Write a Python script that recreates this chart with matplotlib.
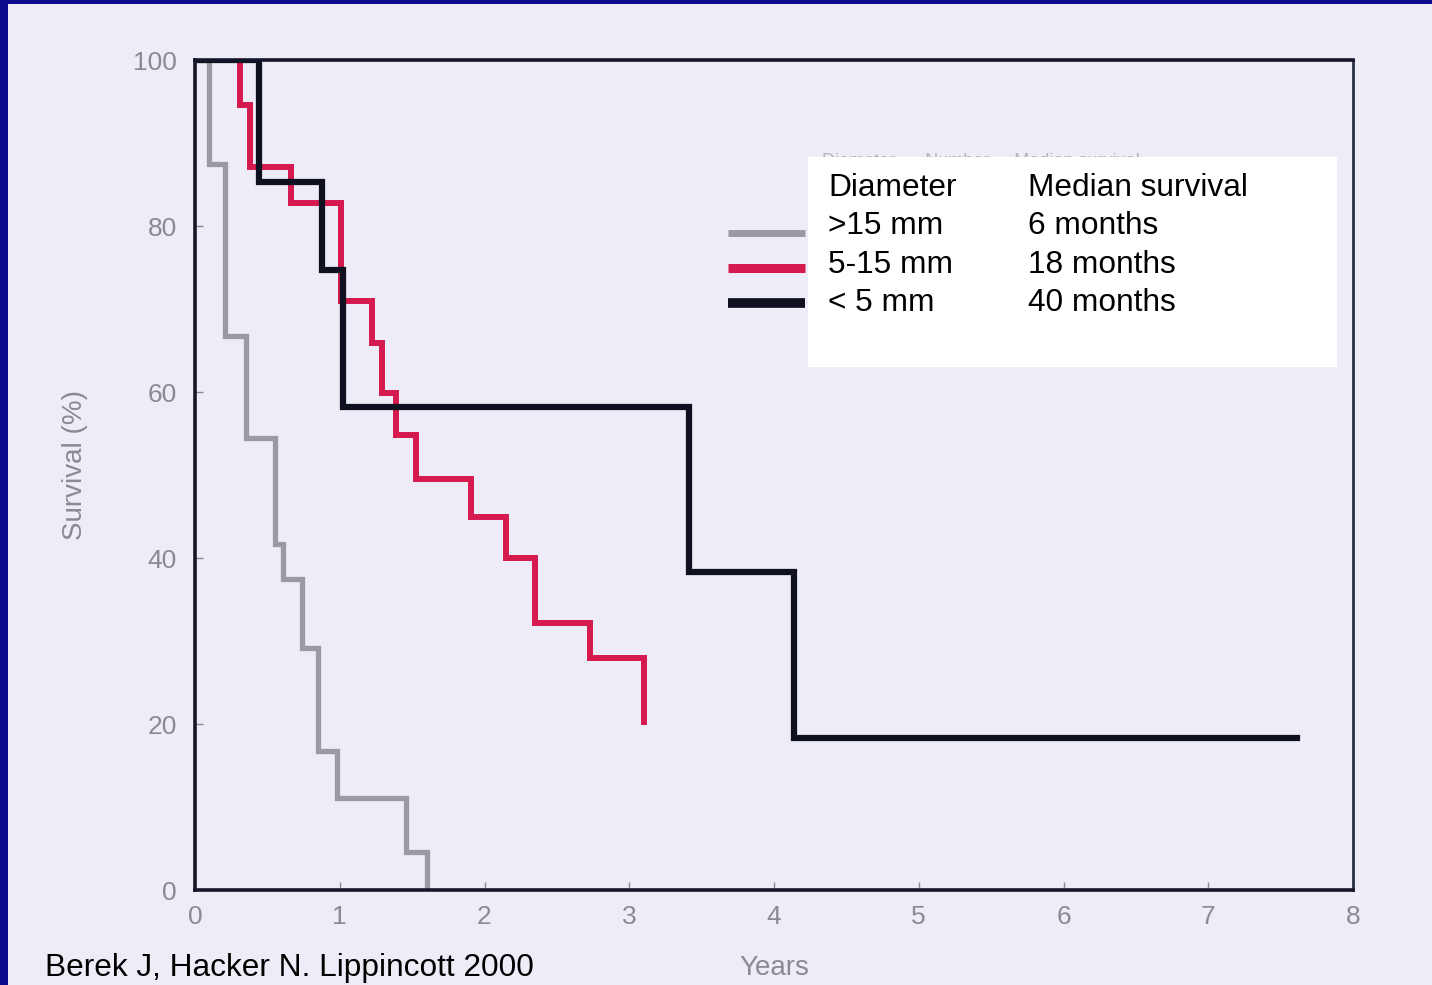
import matplotlib
matplotlib.use("Agg")
import matplotlib.pyplot as plt
from matplotlib.patches import Rectangle
from matplotlib.lines import Line2D

plt.rcParams["font.family"] = ["Liberation Sans", "DejaVu Sans"]

# Kaplan-Meier steps (years, survival %)
t_large = [0, 0.10, 0.21, 0.35, 0.55, 0.61, 0.74, 0.85, 0.98, 1.46, 1.60]
s_large = [100, 87.5, 66.7, 54.5, 41.7, 37.5, 29.2, 16.7, 11.1, 4.6, 0]

t_mid = [0, 0.31, 0.38, 0.66, 1.01, 1.22, 1.29, 1.39, 1.53, 1.91, 2.15, 2.35, 2.73, 3.10]
s_mid = [100, 94.6, 87.1, 82.8, 71.0, 65.9, 59.9, 54.8, 49.5, 45.0, 40.0, 32.2, 28.0, 20.3]

t_small = [0, 0.44, 0.88, 1.02, 3.41, 4.14, 7.61]
s_small = [100, 85.3, 74.7, 58.2, 38.3, 18.3, 18.3]

diam_labels = [">15 mm", "5-15 mm", "< 5 mm"]
median_labels = ["6 months", "18 months", "40 months"]
colors = ["#9a9aa2", "#d41a4e", "#0f1020"]

x_ticks = list(range(0, 9))
y_ticks = [0, 20, 40, 60, 80, 100]

W, H = 1432, 985
fig = plt.figure(figsize=(W / 100, H / 100), dpi=100)
fig.patch.set_facecolor("#0a0a8c")
bg = "#edecf7"
fig.patches.append(Rectangle((8 / W, 0), 1 - 8 / W, 1 - 4 / H, transform=fig.transFigure,
                             facecolor=bg, edgecolor="none", zorder=-5))

ax = fig.add_axes([195 / W, (H - 890) / H, (1353 - 195) / W, (890 - 60) / H])
ax.set_facecolor(bg)

for t, s, c, lw in zip([t_large, t_mid, t_small], [s_large, s_mid, s_small], colors, [3.8, 4.3, 4.5]):
    ax.step(t, s, where="post", color=c, lw=lw, solid_joinstyle="miter", zorder=3)

ax.set_xlim(0, 8)
ax.set_ylim(0, 100)
ax.set_xticks(x_ticks)
ax.set_yticks(y_ticks)
ax.tick_params(direction="in", length=6, width=1, color="#8a8a95",
               labelcolor="#8a8a94", labelsize=19)
ax.tick_params(axis="y", pad=13)
ax.tick_params(axis="x", pad=11)
for side in ["left", "top", "bottom"]:
    ax.spines[side].set_linewidth(2.6)
    ax.spines[side].set_color("#15162a")
    ax.spines[side].set_zorder(4)
ax.spines["right"].set_linewidth(2.0)
ax.spines["right"].set_color("#2a3040")

ax.set_ylabel("Survival (%)", color="#8a8a94", fontsize=20)
ax.yaxis.set_label_coords(-0.092, 0.512)
ax.set_xlabel("Years", color="#8a8a94", fontsize=20)
ax.xaxis.set_label_coords(0.5, -0.078)

# faint original legend header, mostly covered by the white box
fig.text(822 / W, 1 - 162 / H, "Diameter      Number     Median survival",
         color="#b4b4c0", fontsize=13, va="center", zorder=4)

# legend samples
for i, c in enumerate(colors):
    y = 1 - (233 + 35 * i) / H
    fig.add_artist(Line2D([728 / W, 805 / W], [y, y], color=c,
                          lw=[5, 6.5, 7][i], solid_capstyle="butt", zorder=5))

fig.patches.append(Rectangle((808 / W, 1 - 367 / H), (1337 - 808) / W, (367 - 157) / H,
                             transform=fig.transFigure, facecolor="white",
                             edgecolor="none", zorder=6))

rows = [("Diameter", "Median survival")] + list(zip(diam_labels, median_labels))
for i, (a, b) in enumerate(rows):
    y = 1 - (188 + 38.5 * i) / H
    fig.text(828 / W, y, a, fontsize=22.8, color="black", va="center", zorder=7)
    fig.text(1028 / W, y, b, fontsize=22.8, color="black", va="center", zorder=7)

fig.text(45 / W, 1 - 968 / H, "Berek J, Hacker N. Lippincott 2000",
         fontsize=22.8, color="black", va="center")

fig.savefig("out.png", dpi=100, facecolor=fig.get_facecolor())
